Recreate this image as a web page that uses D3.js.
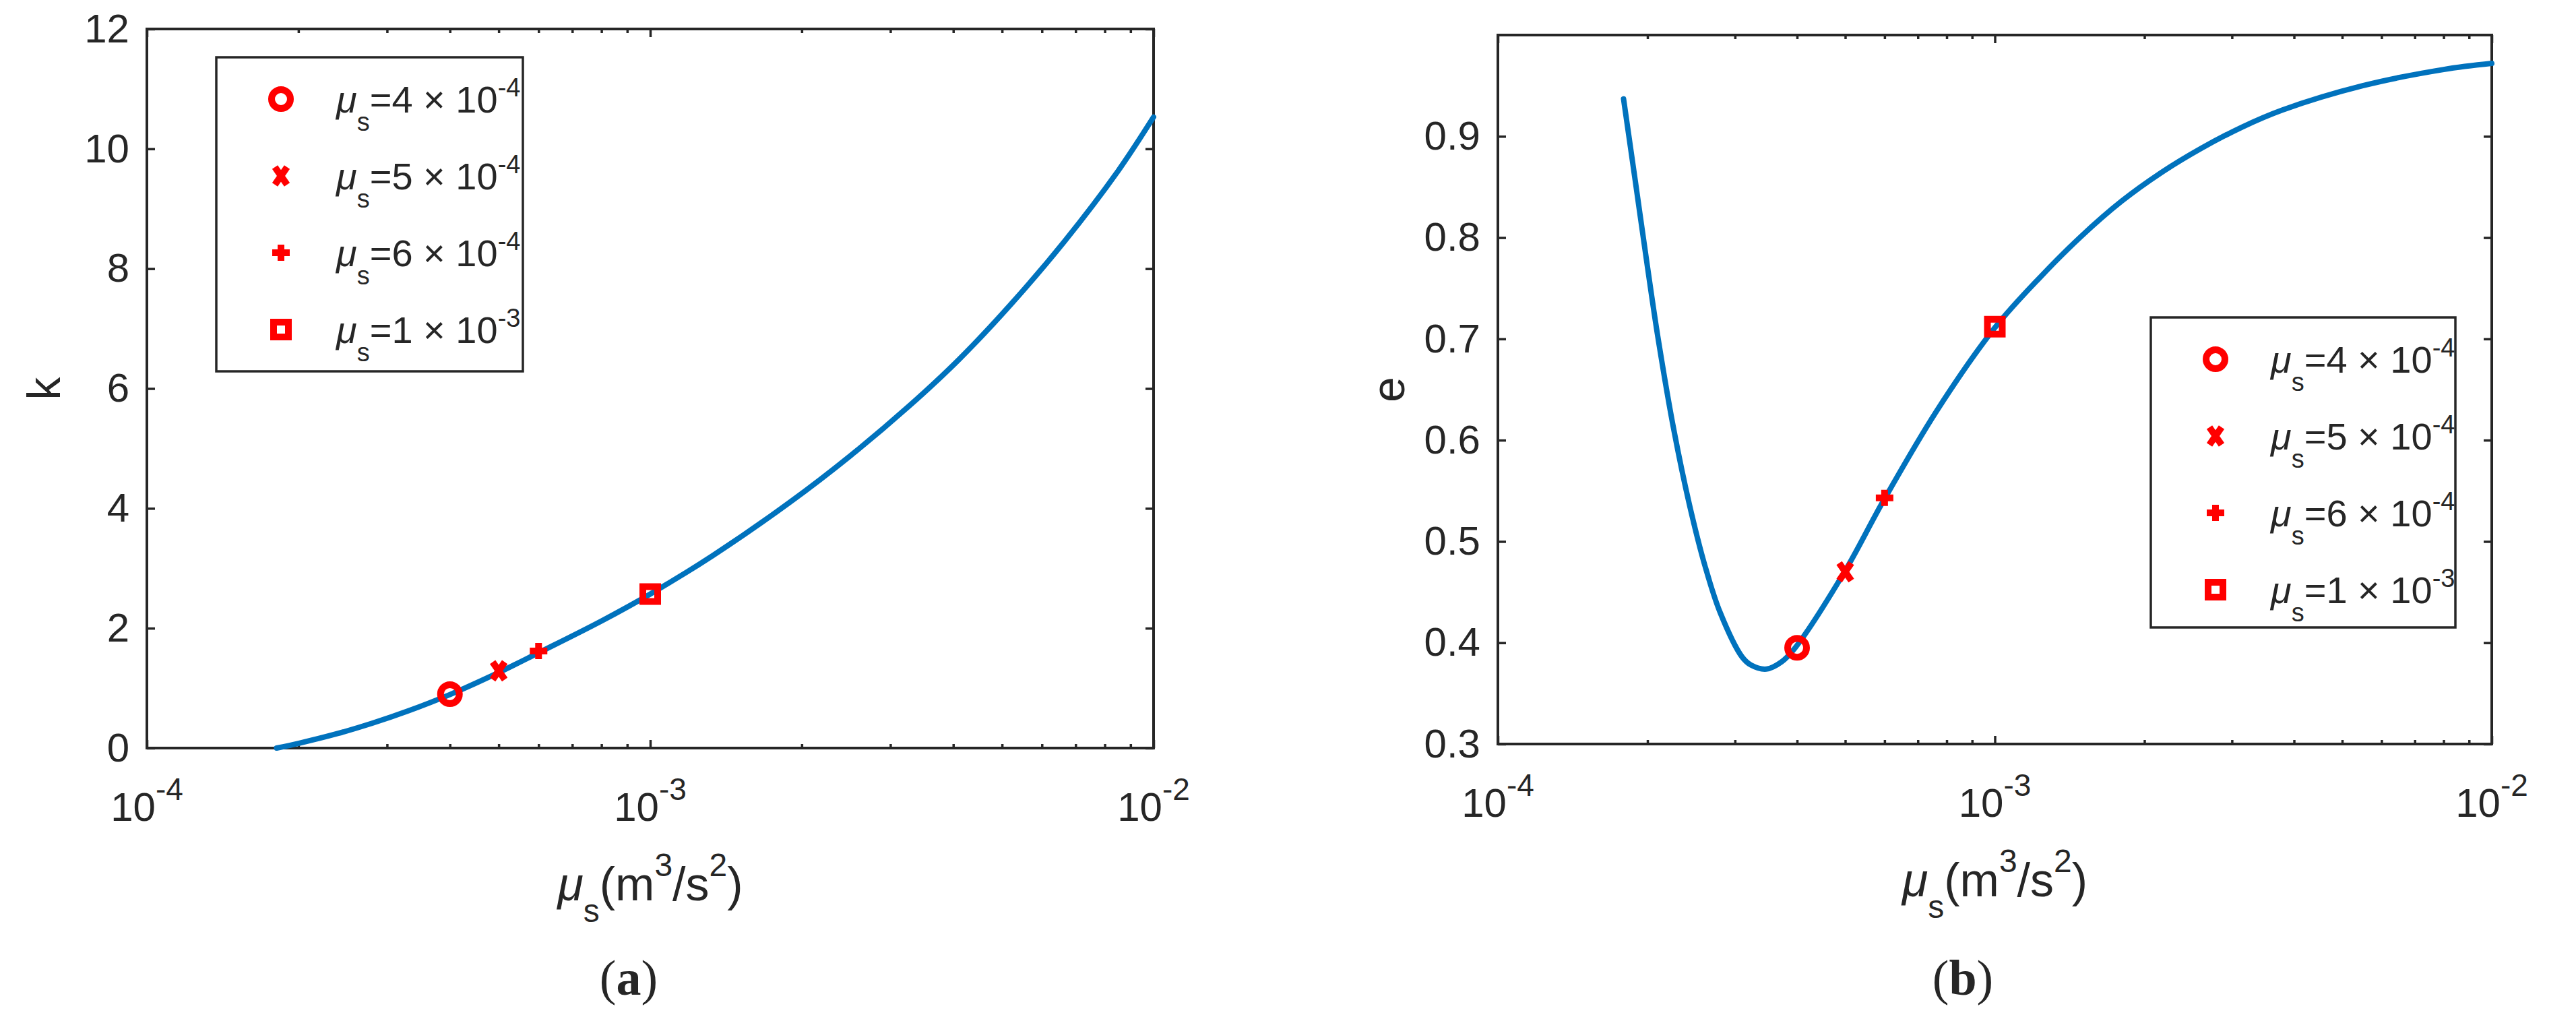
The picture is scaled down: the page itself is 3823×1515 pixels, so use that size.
<!DOCTYPE html>
<html>
<head>
<meta charset="utf-8">
<script src="https://cdn.jsdelivr.net/npm/d3@7"></script>
<style>
  body { margin: 0; background: #fff; }
  text { font-family: "Liberation Sans", Arial, Helvetica, sans-serif; fill: #262626; }
</style>
</head>
<body>
<svg id="fig" width="3823" height="1515"></svg>
<script>
// panel (a): k against mu_s
var kMu  = [1.81e-4, 2.0e-4, 2.4e-4, 2.8e-4, 3.3e-4, 4e-4, 5e-4, 6e-4, 8e-4, 1e-3,
            1.33e-3, 1.9e-3, 2.5e-3, 3.27e-3, 4.1e-3, 5.2e-3, 6.66e-3, 8.5e-3, 1e-2];
var kVal = [0, 0.078, 0.245, 0.413, 0.618, 0.893, 1.26, 1.59, 2.12, 2.57,
            3.21, 4.11, 4.88, 5.71, 6.48, 7.40, 8.46, 9.63, 10.53];

// panel (b): e against mu_s
var eMu  = [1.79e-4, 1.89e-4, 2.0e-4, 2.1e-4, 2.26e-4, 2.43e-4, 2.61e-4, 2.8e-4, 3.1e-4,
            3.23e-4, 3.47e-4, 3.72e-4, 3.95e-4, 4.97e-4, 5.95e-4, 7.64e-4, 1e-3, 1.24e-3,
            1.49e-3, 1.8e-3, 2.16e-3, 2.6e-3, 3.14e-3, 3.79e-3, 5.5e-3, 8e-3, 1e-2];
var eVal = [0.937, 0.856, 0.771, 0.701, 0.610, 0.536, 0.476, 0.430, 0.386,
            0.378, 0.374, 0.381, 0.394, 0.469, 0.539, 0.629, 0.711, 0.762,
            0.801, 0.836, 0.864, 0.888, 0.909, 0.926, 0.950, 0.966, 0.972];

// the four marked cases
var markMu   = [4e-4, 5e-4, 6e-4, 1e-3];
var markK    = [0.9, 1.29, 1.62, 2.57];
var markE    = [0.395, 0.47, 0.543, 0.712];
var markType = ["circle", "x", "plus", "square"];
var markMant = ["4", "5", "6", "1"];
var markExp  = ["-4", "-4", "-4", "-3"];

// ticks
var xTicks = [1e-4, 1e-3, 1e-2];
var xTickExp = ["-4", "-3", "-2"];
var kTicks = [0, 2, 4, 6, 8, 10, 12];
var eTicks = [0.3, 0.4, 0.5, 0.6, 0.7, 0.8, 0.9];

var ink = "#262626", blue = "#0072BD", red = "#FF0000";
var svg = d3.select("#fig");
svg.append("rect").attr("width", 3823).attr("height", 1515).attr("fill", "#fff");

function markerPath(type) {
  if (type == "circle") return d3.symbol().type(d3.symbolCircle).size(Math.PI * 14 * 14)();
  if (type == "x") return "M-9,-13L9,13M9,-13L-9,13";
  if (type == "plus") return "M-13,0L13,0M0,-12L0,12";
  return "M-11,-11H11V11H-11Z";
}

function drawPanel(p) {
  var g = svg.append("g");
  var x = d3.scaleLog().domain([1e-4, 1e-2]).range([p.left, p.right]);
  var y = d3.scaleLinear().domain(p.yDomain).range([p.bottom, p.top]);
  var minor = x.ticks().filter(function (d) { return xTicks.indexOf(d) < 0; });

  function clean(sel) {
    sel.select(".domain").remove();
    sel.attr("color", ink).selectAll("line").attr("stroke-width", 3.5);
  }

  // ticks, all pointing inwards
  g.append("g").attr("transform", "translate(0," + p.bottom + ")")
    .call(d3.axisBottom(x).tickValues(xTicks).tickSize(-12).tickFormat("")).call(clean);
  g.append("g").attr("transform", "translate(0," + p.bottom + ")")
    .call(d3.axisBottom(x).tickValues(minor).tickSize(-6).tickFormat("")).call(clean);
  g.append("g").attr("transform", "translate(0," + p.top + ")")
    .call(d3.axisTop(x).tickValues(xTicks).tickSize(-12).tickFormat("")).call(clean);
  g.append("g").attr("transform", "translate(0," + p.top + ")")
    .call(d3.axisTop(x).tickValues(minor).tickSize(-6).tickFormat("")).call(clean);
  g.append("g").attr("transform", "translate(" + p.left + ",0)")
    .call(d3.axisLeft(y).tickValues(p.yTicks).tickFormat(p.fmt).tickSize(-12).tickPadding(26))
    .call(clean)
    .attr("font-size", 60).attr("font-family", "Liberation Sans, Arial, sans-serif");
  g.append("g").attr("transform", "translate(" + p.right + ",0)")
    .call(d3.axisRight(y).tickValues(p.yTicks).tickSize(-12).tickFormat("")).call(clean);

  // x tick labels as 10^n
  xTicks.forEach(function (v, i) {
    var t = g.append("text").attr("x", x(v)).attr("y", p.bottom + 108)
      .attr("text-anchor", "middle").style("font-size", "60px");
    t.append("tspan").text("10");
    t.append("tspan").attr("dy", -31).style("font-size", "46px").text(xTickExp[i]);
  });

  // frame
  g.append("rect").attr("x", p.left).attr("y", p.top)
    .attr("width", p.right - p.left).attr("height", p.bottom - p.top)
    .attr("fill", "none").attr("stroke", ink).attr("stroke-width", 4);

  // curve
  var line = d3.line()
    .x(function (d, i) { return x(p.mu[i]); })
    .y(function (d) { return y(d); })
    .curve(d3.curveCatmullRom.alpha(0.5));
  g.append("path").attr("d", line(p.vals))
    .attr("fill", "none").attr("stroke", blue).attr("stroke-width", 8)
    .attr("stroke-linecap", "round");

  // markers
  g.selectAll(".mk").data(p.marks).enter().append("path")
    .attr("class", "mk")
    .attr("transform", function (d, i) { return "translate(" + x(markMu[i]) + "," + y(d) + ")"; })
    .attr("d", function (d, i) { return markerPath(markType[i]); })
    .attr("fill", "none").attr("stroke", red).attr("stroke-width", 10);

  // axis labels
  var xl = g.append("text").attr("x", (p.left + p.right) / 2).attr("y", p.bottom + 226)
    .attr("text-anchor", "middle").style("font-size", "70px");
  xl.append("tspan").style("font-style", "italic").text("\u03bc");
  xl.append("tspan").attr("dy", 32).style("font-size", "48px").text("s");
  xl.append("tspan").attr("dy", -32).text("(m");
  xl.append("tspan").attr("dy", -36).style("font-size", "48px").text("3");
  xl.append("tspan").attr("dy", 36).text("/s");
  xl.append("tspan").attr("dy", -36).style("font-size", "48px").text("2");
  xl.append("tspan").attr("dy", 36).text(")");

  g.append("text")
    .attr("transform", "translate(" + p.yLabelX + "," + (p.top + p.bottom) / 2 + ") rotate(-90)")
    .attr("text-anchor", "middle").style("font-size", "68px").text(p.yLabel);

  var cap = g.append("text").attr("x", p.capX).attr("y", 1476).attr("text-anchor", "middle")
    .style("font-family", "Liberation Serif, Times New Roman, serif").style("font-size", "74px")
    .attr("fill", "#000");
  cap.append("tspan").text("(");
  cap.append("tspan").style("font-weight", "bold").text(p.cap);
  cap.append("tspan").text(")");

  // legend
  var lg = g.append("g").attr("transform", "translate(" + p.legX + "," + p.legY + ")");
  lg.append("rect").attr("width", p.legW).attr("height", p.legH)
    .attr("fill", "#fff").attr("stroke", ink).attr("stroke-width", 3.5);
  markType.forEach(function (type, i) {
    var cy = 62 + i * 114;
    lg.append("path").attr("transform", "translate(96," + cy + ")")
      .attr("d", markerPath(type))
      .attr("fill", "none").attr("stroke", red).attr("stroke-width", 10);
    var t = lg.append("text").attr("x", 178).attr("y", cy + 20).style("font-size", "56px");
    t.append("tspan").style("font-style", "italic").text("\u03bc");
    t.append("tspan").attr("dy", 27).style("font-size", "38px").text("s");
    t.append("tspan").attr("dy", -27).text("=" + markMant[i] + " \u00d7 10");
    t.append("tspan").attr("dy", -24).style("font-size", "38px").text(markExp[i]);
  });
}

drawPanel({
  left: 218, right: 1712, top: 43, bottom: 1110,
  yDomain: [0, 12], yTicks: kTicks, fmt: d3.format("d"),
  mu: kMu, vals: kVal, marks: markK,
  yLabel: "k", yLabelX: 89, cap: "a", capX: 933,
  legX: 321, legY: 85, legW: 455, legH: 466
});

drawPanel({
  left: 2223, right: 3698, top: 52, bottom: 1104,
  yDomain: [0.3, 1.0], yTicks: eTicks, fmt: d3.format(".1f"),
  mu: eMu, vals: eVal, marks: markE,
  yLabel: "e", yLabelX: 2084, cap: "b", capX: 2913,
  legX: 3192, legY: 471, legW: 452, legH: 460
});
</script>
</body>
</html>
